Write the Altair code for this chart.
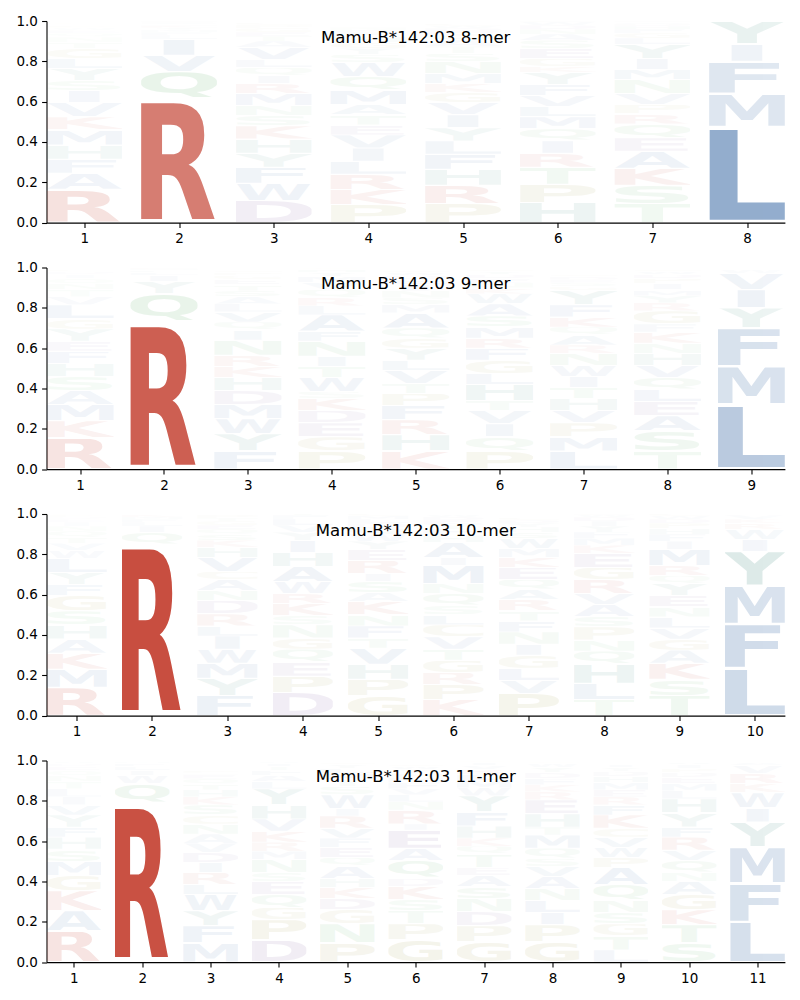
import base64
import altair as alt
import pandas as pd

# ---------------- data ----------------
TITLES = ["Mamu-B*142:03 8-mer", "Mamu-B*142:03 9-mer",
          "Mamu-B*142:03 10-mer", "Mamu-B*142:03 11-mer"]

# each column: residues from bottom to top, and their heights (probabilities)
LOGO_8 = [
    ("RAFHMKVISYLGTNQEWPDC", [.165, .08, .07, .07, .075, .065, .07, .06, .05, .06, .05, .05, .03, .025, .02, .015, .012, .01, .008, .005]),
    ("RQVILFMYKHAST", [.61, .14, .08, .08, .02, .015, .012, .01, .01, .008, .006, .005, .004]),
    ("DWFYHKSNMRIQLVATEGPC", [.11, .085, .08, .07, .07, .065, .05, .05, .06, .05, .04, .04, .04, .06, .03, .025, .02, .02, .015, .01]),
    ("PKRLIVETAMQWSYGHFDNC", [.09, .075, .075, .065, .065, .065, .05, .05, .05, .07, .07, .07, .04, .03, .03, .025, .02, .015, .01, .005]),
    ("PRHFLYIVGKMNSTAQEDWC", [.095, .09, .08, .075, .065, .065, .065, .06, .05, .045, .05, .06, .04, .035, .03, .025, .02, .015, .01, .01]),
    ("HPTRIQMLVFYKGESANDWC", [.1, .09, .085, .07, .06, .06, .06, .05, .055, .055, .06, .03, .04, .05, .04, .03, .025, .02, .015, .005]),
    ("TSKAEQRPVNMIYLGFHDWC", [.095, .09, .085, .085, .065, .07, .05, .045, .055, .07, .05, .055, .07, .03, .025, .02, .015, .01, .008, .005]),
    ("LMFIY", [.475, .165, .16, .085, .115]),
]
LOGO_9 = [
    ("RKMASHFEYGLVTNQIDPW", [.155, .085, .08, .07, .07, .065, .06, .05, .06, .05, .07, .04, .035, .03, .025, .02, .015, .01, .005]),
    ("RQYILFMKS", [.73, .14, .06, .03, .015, .01, .006, .005, .004]),
    ("FYWMDHKRNIQVLASTEGPC", [.09, .085, .075, .07, .07, .065, .055, .055, .075, .05, .04, .05, .04, .035, .03, .03, .025, .02, .015, .01]),
    ("PGEDKSWTINFALRQVMYHC", [.09, .07, .07, .06, .06, .035, .07, .055, .05, .075, .05, .08, .045, .04, .04, .035, .03, .02, .015, .01]),
    ("KHRFPTVLYGQAMSNIEDWC", [.09, .08, .075, .07, .06, .05, .065, .05, .06, .05, .05, .075, .04, .035, .035, .03, .025, .02, .015, .01]),
    ("PQIVTHLGFRMSAWKNEDYC", [.09, .07, .065, .065, .05, .08, .055, .065, .06, .05, .055, .055, .06, .05, .03, .025, .02, .02, .015, .01]),
    ("LMPVHTIWNRAQKFYGSEDC", [.09, .07, .07, .06, .06, .055, .055, .055, .06, .04, .05, .04, .05, .06, .07, .02, .02, .015, .015, .01]),
    ("TSAELQVHNKFGRYMIPDWC", [.09, .1, .075, .07, .06, .06, .06, .06, .05, .055, .04, .065, .04, .035, .03, .03, .025, .02, .015, .01]),
    ("LMFYIVW", [.32, .19, .19, .1, .09, .08, .02]),
]
LOGO_10 = [
    ("RMKAHSGFYLWVTQNIEDPC", [.14, .09, .08, .07, .07, .07, .075, .055, .06, .07, .04, .035, .03, .03, .025, .02, .015, .01, .01, .005]),
    ("RQILFMK", [.85, .06, .03, .02, .015, .01, .01]),
    ("FYMWILRDNACVHKSQEGTP", [.1, .085, .075, .07, .065, .05, .06, .065, .05, .055, .04, .07, .05, .035, .03, .025, .02, .02, .015, .015]),
    ("DPEQGNSKRWAHIYVLFTC", [.115, .08, .07, .065, .055, .065, .045, .06, .05, .06, .075, .07, .06, .04, .035, .03, .02, .015, .01]),
    ("GPHVTFNKASIREYWQDLMC", [.1, .08, .075, .08, .05, .06, .055, .065, .045, .055, .04, .065, .055, .04, .035, .03, .025, .02, .015, .01]),
    ("KPRGTVCLSQNMIAHFYEDW", [.08, .075, .06, .06, .055, .06, .06, .05, .045, .06, .05, .09, .04, .075, .035, .03, .025, .02, .015, .01]),
    ("PVLGINFTRAQEKMWSHYDC", [.11, .065, .06, .065, .055, .06, .055, .05, .055, .05, .05, .06, .05, .045, .05, .03, .025, .02, .015, .01]),
    ("TLHQNPSAVRGEKMFYIDWC", [.08, .08, .095, .065, .055, .065, .05, .06, .055, .07, .06, .07, .04, .035, .03, .03, .025, .02, .01, .005]),
    ("TSKAGVLNEYQRMIFHPDWC", [.1, .08, .08, .065, .055, .055, .055, .05, .055, .06, .04, .05, .08, .04, .035, .03, .025, .02, .015, .01]),
    ("LFMYIWRKV", [.235, .22, .19, .17, .06, .05, .03, .02, .02]),
]
LOGO_11 = [
    ("RAKGMSHFYVILTNQEDWP", [.155, .1, .1, .075, .07, .06, .06, .05, .06, .05, .04, .04, .035, .03, .025, .02, .015, .01, .005]),
    ("RQWILFM", [.785, .1, .04, .025, .02, .015, .01]),
    ("MFYWLRIDVANCSKHTQEGP", [.095, .085, .075, .08, .05, .06, .05, .05, .045, .045, .05, .045, .05, .04, .035, .03, .025, .02, .01, .01]),
    ("DPGQESNMRKVHYLAFTIWC", [.11, .1, .06, .065, .065, .045, .065, .04, .045, .055, .06, .07, .08, .035, .03, .025, .02, .015, .01, .005]),
    ("PNGDKHAQEFVRIWSTMLYC", [.095, .095, .07, .055, .055, .045, .06, .045, .05, .045, .05, .06, .035, .07, .04, .035, .03, .025, .02, .01]),
    ("GPTSKDQAEIRNLVFMHYWC", [.11, .08, .065, .055, .065, .04, .09, .06, .09, .03, .07, .04, .035, .03, .03, .025, .02, .02, .015, .01]),
    ("GPDNSAETQKHFYWMLRVIC", [.1, .08, .07, .065, .06, .055, .04, .065, .04, .04, .06, .07, .08, .04, .035, .03, .025, .02, .015, .01]),
    ("GPILNAVSQMTHERKFDYWC", [.1, .085, .06, .06, .06, .06, .05, .04, .05, .065, .04, .065, .07, .04, .035, .03, .03, .025, .02, .01]),
    ("LTGSNQAPWVCKFREMHDYI", [.06, .07, .06, .055, .06, .08, .085, .05, .05, .05, .045, .065, .05, .04, .035, .035, .03, .025, .02, .015]),
    ("STKGANQVRFYHLMEDPIWC", [.095, .09, .075, .075, .065, .045, .06, .05, .065, .05, .07, .07, .04, .035, .03, .025, .02, .02, .01, .005]),
    ("LFMYIWKRVA", [.2, .19, .18, .125, .07, .075, .045, .05, .04, .015]),
]
LOGOS = [LOGO_8, LOGO_9, LOGO_10, LOGO_11]

# ---------------- glyph styling ----------------
RED, BLUE, TEAL, GREEN, PURPLE, OLIVE = "#c84e40", "#3b6ba6", "#3d8a7c", "#5fb36a", "#7d5a9c", "#a09a45"
COLORS = {}
for group, col in [("RK", RED), ("AFILMVW", BLUE), ("HY", TEAL), ("NQST", GREEN),
                   ("DE", PURPLE), ("GPC", OLIVE)]:
    for ch in group:
        COLORS[ch] = col

# approximate side bearings of DejaVu Sans Bold (fractions of advance)
TRIM = {"A": (0.0, 0.0), "V": (0.0, 0.0), "W": (0.01, 0.01), "Y": (0.0, 0.0), "T": (0.01, 0.01),
        "R": (0.12, 0.0), "K": (0.12, 0.0), "L": (0.14, 0.06), "F": (0.14, 0.06), "E": (0.13, 0.08),
        "P": (0.12, 0.06), "D": (0.11, 0.075), "H": (0.11, 0.11), "M": (0.095, 0.095), "N": (0.11, 0.11),
        "C": (0.075, 0.09), "G": (0.067, 0.08), "Q": (0.065, 0.065), "S": (0.09, 0.08), "I": (0.25, 0.25)}
ROUND = set("CGQS")


def glyph_uri(ch):
    top, bot = (74.5, -1.5) if ch in ROUND else (72.9, 0.0)
    if ch == "Q":
        bot = -19.0
    if ch == "I":
        vb = f"0 {-top} 100 {top - bot}"
        x, tl = 10, 80
    else:
        lsb, rsb = TRIM[ch]
        vb = f"{lsb * 100:.2f} {-top} {(1 - lsb - rsb) * 100:.2f} {top - bot}"
        x, tl = 0, 100
    svg = (f'<svg xmlns="http://www.w3.org/2000/svg" width="100" height="100" viewBox="{vb}" '
           f'preserveAspectRatio="none"><text x="{x}" y="0" font-family="DejaVu Sans" '
           f'font-weight="bold" font-size="100" textLength="{tl}" lengthAdjust="spacingAndGlyphs" '
           f'fill="{COLORS[ch]}">{ch}</text></svg>')
    return "data:image/svg+xml;base64," + base64.b64encode(svg.encode()).decode()


URIS = {ch: glyph_uri(ch) for ch in COLORS}

W, H = 738.4, 201.6
HALF, VPAD = 0.4, 0.03


def panel(logo, title):
    rows = []
    for i, (letters, heights) in enumerate(logo):
        pos = i + 1
        base = 0.0
        for ch, h in zip(letters, heights):
            rows.append(dict(pos=pos, letter=ch, h=h,
                             x0=pos - HALF, x1=pos + HALF,
                             y0=base + VPAD * h, y1=base + h - VPAD * h,
                             url=URIS[ch]))
            base += h
    df = pd.DataFrame(rows)
    n = len(logo)
    xs = alt.Scale(domain=[0.6, n + 0.4], nice=False, zero=False)
    letters = alt.Chart(df).mark_image(aspect=False, clip=True).encode(
        x=alt.X("x0:Q", scale=xs,
                axis=alt.Axis(values=list(range(1, n + 1)), format="d", title=None,
                              labelFlush=False, labelOverlap=False)),
        x2="x1:Q",
        y=alt.Y("y0:Q", scale=alt.Scale(domain=[0, 1], nice=False),
                axis=alt.Axis(values=[0, 0.2, 0.4, 0.6, 0.8, 1.0], format=".1f", title=None,
                              labelFlush=False)),
        y2="y1:Q",
        url="url:N",
        opacity=alt.Opacity("h:Q", scale=alt.Scale(type="pow", exponent=1.15, domain=[0, 0.8],
                                                   range=[0, 1], clamp=True),
                            legend=None),
    )
    ttl = alt.Chart(pd.DataFrame({"t": [title]})).mark_text(
        font="DejaVu Sans", fontSize=16.6, baseline="alphabetic", align="center", color="black"
    ).encode(x=alt.value(W / 2), y=alt.value(21.7), text="t:N")
    return alt.layer(letters, ttl).properties(width=W, height=H)


chart = alt.vconcat(*[panel(l, t) for l, t in zip(LOGOS, TITLES)], spacing=44.5, bounds="flush").properties(
    padding={"left": 15.5, "top": 14, "right": 5, "bottom": 5}
).configure_view(stroke=None).configure_axis(
    grid=False, labelFont="DejaVu Sans", labelFontSize=13.5, labelColor="black",
    domainColor="black", domainWidth=1.1, tickColor="black", tickWidth=1.1, tickSize=4.9,
    labelPadding=4.2,
)

chart.save("out.html", embed_options={"renderer": "svg", "actions": False})
